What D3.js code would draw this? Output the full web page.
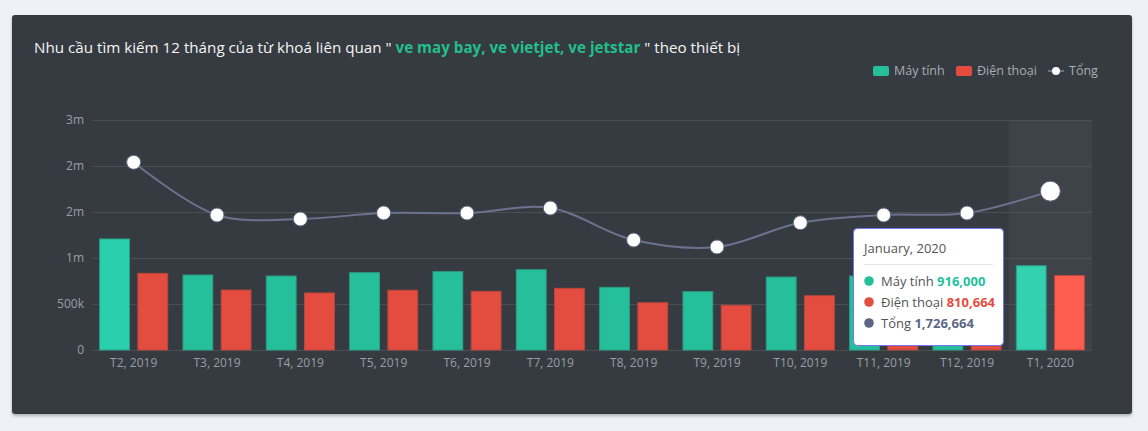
<!DOCTYPE html>
<html>
<head>
<meta charset="utf-8">
<script src="https://cdnjs.cloudflare.com/ajax/libs/d3/7.8.5/d3.min.js"></script>
<style>
  html, body { margin: 0; padding: 0; background: #eef1f5; }
  svg { display: block; }
</style>
</head>
<body>
<svg id="chart" width="1148" height="431"></svg>
<script>
// ---- data ----
const months = ["T2, 2019", "T3, 2019", "T4, 2019", "T5, 2019", "T6, 2019", "T7, 2019",
                "T8, 2019", "T9, 2019", "T10, 2019", "T11, 2019", "T12, 2019", "T1, 2020"];
const mayTinh   = [1207000, 815000, 804000, 840000, 851000, 873000, 681000, 634000, 793000, 804000, 820000, 916000];
const dienThoai = [833000, 652000, 620000, 650000, 638000, 670000, 514000, 486000, 590000, 663000, 669000, 810664];
const tong      = [2040000, 1467000, 1424000, 1490000, 1489000, 1543000, 1195000, 1120000, 1383000, 1467000, 1489000, 1726664];
const yTicks = [0, 500000, 1000000, 1500000, 2000000, 2500000];
const yTickLabels = ["0", "500k", "1m", "2m", "2m", "3m"];
const seriesNames = ["Máy tính", "Điện thoại", "Tổng"];
const titleParts = ["Nhu cầu tìm kiếm 12 tháng của từ khoá liên quan \" ", "ve may bay, ve vietjet, ve jetstar", " \" theo thiết bị"];
const tooltipTitle = "January, 2020";
const hoverIndex = 11;

// ---- layout ----
const svg = d3.select("#chart");
const font = "'Open Sans', 'Noto Sans', sans-serif";
const plot = { left: 92, right: 1092, top: 120, bottom: 350 };

const defs = svg.append("defs");
const f = defs.append("filter").attr("id", "sh").attr("x", "-5%").attr("y", "-5%").attr("width", "110%").attr("height", "115%");
f.append("feDropShadow").attr("dx", 0).attr("dy", 2).attr("stdDeviation", 1.5).attr("flood-color", "#000").attr("flood-opacity", 0.25);

svg.append("rect").attr("x", 12).attr("y", 15).attr("width", 1120).attr("height", 399)
  .attr("rx", 3).attr("fill", "#363a41").attr("filter", "url(#sh)");

// title
const title = svg.append("text").attr("x", 34).attr("y", 53)
  .attr("font-family", font).attr("font-size", 15.2).attr("fill", "#f4f4f4");
title.append("tspan").text(titleParts[0]);
title.append("tspan").text(titleParts[1]).attr("fill", "#22bf8a").attr("font-weight", 700);
title.append("tspan").text(titleParts[2]);

// scales
const x0 = d3.scaleBand().domain(months).range([plot.left, plot.right]).paddingInner(0).paddingOuter(0);
const x1 = d3.scaleBand().domain([0, 1]).range([0, x0.bandwidth()]).paddingInner(0.22).paddingOuter(0.2);
const y = d3.scaleLinear().domain([0, 2500000]).range([plot.bottom, plot.top]);

// highlight band
svg.append("rect").attr("x", x0(months[hoverIndex])).attr("y", plot.top)
  .attr("width", x0.bandwidth()).attr("height", plot.bottom - plot.top).attr("fill", "#3e4249");

// grid
svg.append("g").selectAll("line").data(yTicks).join("line")
  .attr("x1", plot.left).attr("x2", plot.right)
  .attr("y1", d => y(d)).attr("y2", d => y(d))
  .attr("stroke", "#4b4f51").attr("stroke-width", 1).attr("shape-rendering", "crispEdges");

// y axis labels
const yAxis = d3.axisLeft(y).tickValues(yTicks).tickFormat((d, i) => yTickLabels[i]).tickSize(0).tickPadding(8);
const yg = svg.append("g").attr("transform", `translate(${plot.left},0)`).call(yAxis);
yg.select(".domain").remove();
yg.selectAll("text").attr("font-family", font).attr("font-size", 12).attr("fill", "#9a9ea6");

// x axis labels
const xAxis = d3.axisBottom(x0).tickSize(0).tickPadding(8);
const xg = svg.append("g").attr("transform", `translate(0,${plot.bottom})`).call(xAxis);
xg.select(".domain").remove();
xg.selectAll("text").attr("font-family", font).attr("font-size", 12).attr("fill", "#9a9ea6");

// bars
const colors = { green: "#26bf9c", red: "#e34c3f", greenHi: "#33d1b0", redHi: "#fd5e4f", greenFirst: "#2ad0ad" };
const barData = [];
months.forEach((m, i) => {
  barData.push({ m, i, k: 0, v: mayTinh[i], hi: i === hoverIndex });
  barData.push({ m, i, k: 1, v: dienThoai[i], hi: i === hoverIndex });
});
svg.append("g").selectAll("rect").data(barData).join("rect")
  .attr("x", d => x0(d.m) + x1(d.k))
  .attr("y", d => y(d.v))
  .attr("width", x1.bandwidth())
  .attr("height", d => y(0) - y(d.v))
  .attr("fill", d => d.k === 0 ? (d.hi ? colors.greenHi : (d.i === 0 ? colors.greenFirst : colors.green)) : (d.hi ? colors.redHi : colors.red))
  .attr("stroke", d => d.k === 0 ? "#2a9e86" : "#b9473d")
  .attr("stroke-width", 1);

// line
const cx = i => x0(months[i]) + x0.bandwidth() / 2;
const line = d3.line().x((d, i) => cx(i)).y(d => y(d)).curve(d3.curveCatmullRom.alpha(0.5));
svg.append("path").datum(tong).attr("d", line)
  .attr("fill", "none").attr("stroke", "#6b7390").attr("stroke-width", 2);
svg.append("g").selectAll("circle").data(tong).join("circle")
  .attr("cx", (d, i) => cx(i)).attr("cy", d => y(d))
  .attr("r", (d, i) => i === hoverIndex ? 10 : 7)
  .attr("fill", "#fff").attr("stroke", "#5d6580").attr("stroke-width", 1);

// legend
const lg = svg.append("g").attr("font-family", font).attr("font-size", 12.5).attr("fill", "#a9adb4");
lg.append("rect").attr("x", 873).attr("y", 66).attr("width", 16).attr("height", 10).attr("rx", 2).attr("fill", colors.green);
lg.append("text").attr("x", 894).attr("y", 75).text(seriesNames[0]);
lg.append("rect").attr("x", 956).attr("y", 66).attr("width", 16).attr("height", 10).attr("rx", 2).attr("fill", colors.red);
lg.append("text").attr("x", 977).attr("y", 75).text(seriesNames[1]);
lg.append("line").attr("x1", 1048).attr("x2", 1064).attr("y1", 71).attr("y2", 71).attr("stroke", "#6b7390").attr("stroke-width", 2);
lg.append("circle").attr("cx", 1056).attr("cy", 71).attr("r", 4).attr("fill", "#fff");
lg.append("text").attr("x", 1069).attr("y", 75).text(seriesNames[2]);

// tooltip
const tt = svg.append("g").attr("transform", "translate(853,228)").attr("font-family", font);
tt.append("rect").attr("x", 0.5).attr("y", 0.5).attr("width", 150).attr("height", 117).attr("rx", 4)
  .attr("fill", "#fff").attr("stroke", "#7474f0").attr("stroke-width", 1);
tt.append("text").attr("x", 11).attr("y", 25).attr("font-size", 13).attr("fill", "#555").text(tooltipTitle);
tt.append("line").attr("x1", 11).attr("x2", 140).attr("y1", 36.5).attr("y2", 36.5).attr("stroke", "#e5e5e5");
const fmt = d3.format(",");
const rows = [
  { name: seriesNames[0], v: mayTinh[hoverIndex], c: colors.green },
  { name: seriesNames[1], v: dienThoai[hoverIndex], c: colors.red },
  { name: seriesNames[2], v: tong[hoverIndex], c: "#5d6684" }
];
rows.forEach((r, i) => {
  const yy = 53 + i * 21;
  tt.append("circle").attr("cx", 16).attr("cy", yy).attr("r", 4.8).attr("fill", r.c);
  const t = tt.append("text").attr("x", 28).attr("y", yy + 5).attr("font-size", 13).attr("fill", "#555");
  t.append("tspan").text(r.name + " ");
  t.append("tspan").text(fmt(r.v)).attr("font-weight", 700).attr("fill", r.c);
});
</script>
</body>
</html>
